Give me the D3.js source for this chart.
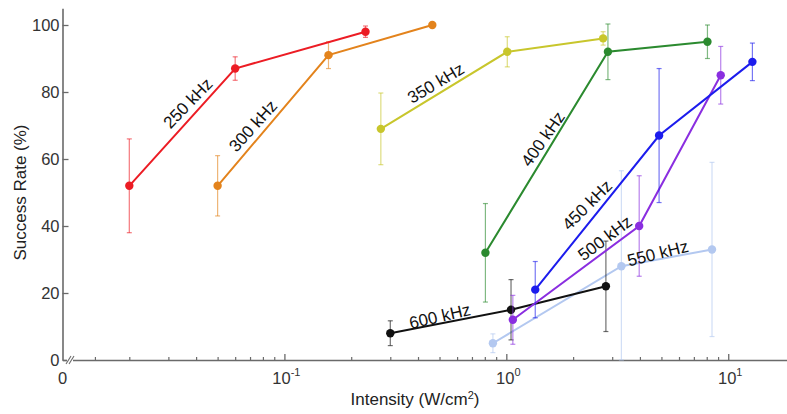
<!DOCTYPE html>
<html>
<head>
<meta charset="utf-8">
<script src="https://cdn.jsdelivr.net/npm/d3@7"></script>
<style>
  html, body { margin: 0; padding: 0; background: #fff; }
  svg { display: block; font-family: "Liberation Sans", Arial, Helvetica, sans-serif; }
</style>
</head>
<body>
<svg id="chart" width="787" height="414"></svg>
<script>
// ---------------- DATA ----------------
const seriesNames = ["250 kHz", "300 kHz", "350 kHz", "400 kHz", "450 kHz", "500 kHz", "550 kHz", "600 kHz"];
const seriesColors = ["#ec1c24", "#e3831c", "#c8c62c", "#2b8a2f", "#1c1ced", "#8a2ee0", "#b3c8f0", "#111111"];

const intensity250 = [0.02, 0.06, 0.232];
const rate250      = [52, 87, 98];
const err250       = [14, 3.5, 1.7];

const intensity300 = [0.05, 0.158, 0.464];
const rate300      = [52, 91, 100];
const err300       = [9, 4, 0];

const intensity350 = [0.272, 1.01, 2.73];
const rate350      = [69, 92, 96];
const err350       = [10.7, 4.5, 2];

const intensity400 = [0.805, 2.87, 8.06];
const rate400      = [32, 92, 95];
const err400       = [14.7, 8.3, 5];

const intensity450 = [1.35, 4.88, 12.85];
const rate450      = [21, 67, 89];
const err450       = [8.4, 20, 5.6];

const intensity500 = [1.07, 3.97, 9.25];
const rate500      = [12, 40, 85];
const err500       = [7.3, 15, 8.6];

const intensity550 = [0.87, 3.3, 8.45];
const rate550      = [5, 28, 33];
const err550       = [2.8, 28.5, 26];

const intensity600 = [0.3, 1.05, 2.81];
const rate600      = [8, 15, 22];
const err600       = [3.7, 9, 13.5];

const yTickValues = [0, 20, 40, 60, 80, 100];
const xMajorTicks = [0.1, 1, 10];
const xMajorExp   = ["-1", "0", "1"];
const xMinorTicks = [0.014, 0.02, 0.03, 0.04, 0.05, 0.06, 0.07, 0.08, 0.09,
                     0.2, 0.3, 0.4, 0.5, 0.6, 0.7, 0.8, 0.9,
                     2, 3, 4, 5, 6, 7, 8, 9];

// label anchors in data space (intensity, rate) with rotation angle
const labelIntensity = [0.0367, 0.0721, 0.481, 1.46, 2.31, 2.78, 4.81, 0.502];
const labelRate      = [76.7, 69.9, 82.7, 66, 46.3, 36.4, 31.9, 13.1];
const labelAngle     = [-46, -48, -31, -55, -45, -37, -14, -13];

const xTitle = "Intensity (W/cm";
const yTitle = "Success Rate (%)";

// --------------- BUILD ----------------
const allIntensity = [intensity250, intensity300, intensity350, intensity400, intensity450, intensity500, intensity550, intensity600];
const allRate = [rate250, rate300, rate350, rate400, rate450, rate500, rate550, rate600];
const allErr = [err250, err300, err350, err400, err450, err500, err550, err600];

const series = seriesNames.map((name, i) => ({
  name, color: seriesColors[i],
  pts: allIntensity[i].map((x, j) => ({ x, y: allRate[i][j], e: allErr[i][j] })),
  label: { x: labelIntensity[i], y: labelRate[i], a: labelAngle[i] }
}));

const svg = d3.select("#chart");
const x = d3.scaleLog().domain([0.01, 18.4]).range([62.5, 787]);
const y = d3.scaleLinear().domain([0, 105]).range([360, 8.25]);
const axisColor = "#6a6a6a";

// axes
const yAxis = svg.append("g").attr("transform", `translate(${x.range()[0]},0)`)
  .call(d3.axisLeft(y).tickValues(yTickValues).tickSizeInner(-6).tickSizeOuter(0).tickPadding(3));
yAxis.select(".domain").attr("stroke", axisColor).attr("stroke-width", 1.6);
yAxis.selectAll(".tick line").attr("stroke", axisColor).attr("stroke-width", 1.3);
yAxis.selectAll(".tick text").attr("font-size", 16.5).attr("fill", "#333").attr("font-family", "Liberation Sans, Arial, sans-serif");

const xAxisMinor = svg.append("g").attr("transform", `translate(0,${y(0)})`)
  .call(d3.axisBottom(x).tickValues(xMinorTicks).tickSizeInner(-3).tickSizeOuter(0).tickFormat(""));
xAxisMinor.select(".domain").attr("stroke", axisColor).attr("stroke-width", 1.6);
xAxisMinor.selectAll(".tick line").attr("stroke", axisColor).attr("stroke-width", 1.2);

const xAxisMajor = svg.append("g").attr("transform", `translate(0,${y(0)})`)
  .call(d3.axisBottom(x).tickValues(xMajorTicks).tickSizeInner(-6).tickSizeOuter(0).tickFormat(""));
xAxisMajor.select(".domain").remove();
xAxisMajor.selectAll(".tick line").attr("stroke", axisColor).attr("stroke-width", 1.3);

// major tick labels 10^n
xMajorTicks.forEach((v, i) => {
  const t = svg.append("text").attr("x", x(v) + 2).attr("y", y(0) + 24)
    .attr("text-anchor", "middle").attr("font-size", 16.5).attr("fill", "#333");
  t.append("tspan").text("10");
  t.append("tspan").attr("dy", -8).attr("font-size", 11).text(xMajorExp[i]);
});
// zero label for x axis origin
svg.append("text").attr("x", x(0.01)).attr("y", y(0) + 24)
  .attr("text-anchor", "middle").attr("font-size", 16.5).attr("fill", "#333").text("0");

// axis break mark
const bx = x(0.01) + 7.5, by = y(0);
svg.append("rect").attr("x", bx - 3).attr("y", by - 3).attr("width", 6).attr("height", 6).attr("fill", "#fff");
[-1.5, 1.5].forEach(d => {
  svg.append("line").attr("x1", bx + d - 2.5).attr("y1", by + 4).attr("x2", bx + d + 2.5).attr("y2", by - 4)
    .attr("stroke", axisColor).attr("stroke-width", 1.1);
});

// axis titles
const xt = svg.append("text").attr("x", 415).attr("y", 405).attr("text-anchor", "middle")
  .attr("font-size", 17).attr("fill", "#222");
xt.append("tspan").text(xTitle);
xt.append("tspan").attr("dy", -6).attr("font-size", 11).text("2");
xt.append("tspan").attr("dy", 6).text(")");

svg.append("text").attr("transform", `translate(26,${y(50)}) rotate(-90)`).attr("text-anchor", "middle")
  .attr("font-size", 17).attr("fill", "#222").text(yTitle);

// series
const line = d3.line().x(d => x(d.x)).y(d => y(d.y));
const drawOrder = [6, 7, 5, 4, 3, 2, 1, 0];
drawOrder.forEach(i => {
  const s = series[i];
  const g = svg.append("g");
  // error bars
  s.pts.filter(p => p.e > 0).forEach(p => {
    const top = y(p.y + p.e), bot = y(Math.max(0, p.y - p.e)), cx = x(p.x);
    g.append("line").attr("x1", cx).attr("x2", cx).attr("y1", top).attr("y2", bot)
      .attr("stroke", s.color).attr("stroke-opacity", 0.6).attr("stroke-width", 1.2);
    [top, bot].forEach(yy => g.append("line").attr("x1", cx - 2.5).attr("x2", cx + 2.5).attr("y1", yy).attr("y2", yy)
      .attr("stroke", s.color).attr("stroke-opacity", 0.6).attr("stroke-width", 1.2));
  });
  g.append("path").datum(s.pts).attr("d", line).attr("fill", "none")
    .attr("stroke", s.color).attr("stroke-width", 2);
  g.selectAll("circle").data(s.pts).join("circle")
    .attr("cx", d => x(d.x)).attr("cy", d => y(d.y)).attr("r", 4.2).attr("fill", s.color);
});

// series labels
series.forEach(s => {
  svg.append("text")
    .attr("transform", `translate(${x(s.label.x)},${y(s.label.y)}) rotate(${s.label.a})`)
    .attr("text-anchor", "middle").attr("dy", "0.35em")
    .attr("font-size", 17).attr("fill", "#111").text(s.name);
});
</script>
</body>
</html>
